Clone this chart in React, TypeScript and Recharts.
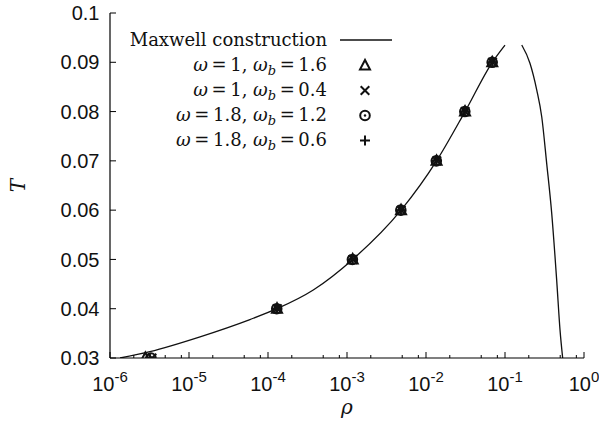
import { ComposedChart, Line, Scatter, XAxis, YAxis, Legend, Label } from 'recharts';

// Maxwell construction, gas branch (rho increasing, T rising)
const rhoGas = [1.34e-6, 3.2e-6, 1.38e-5, 5.9e-5, 1.3e-4, 3.74e-4, 1.18e-3, 4.83e-3, 0.0136, 0.0312, 0.069, 0.1];
const tGas = [0.03, 0.0313, 0.0343, 0.0378, 0.04, 0.0438, 0.05, 0.06, 0.07, 0.08, 0.09, 0.0935];
// liquid branch
const rhoLiq = [0.163, 0.207, 0.252, 0.292, 0.337, 0.39, 0.451, 0.497, 0.537];
const tLiq = [0.0935, 0.0898, 0.0844, 0.0789, 0.0695, 0.0594, 0.0458, 0.0357, 0.03];

// simulation points
const tSim = [0.03, 0.04, 0.05, 0.06, 0.07, 0.08, 0.09];
const rhoW1Wb16 = [2.8e-6, 1.3e-4, 1.18e-3, 4.83e-3, 0.0136, 0.0312, 0.069];
const rhoW1Wb04 = [3.4e-6, 1.31e-4, 1.19e-3, 4.85e-3, 0.0137, 0.0313, 0.0695];
const rhoW18Wb12 = [3.3e-6, 1.29e-4, 1.17e-3, 4.8e-3, 0.0135, 0.031, 0.0688];
const rhoW18Wb06 = [3.2e-6, 1.3e-4, 1.18e-3, 4.82e-3, 0.0136, 0.0311, 0.069];

const omegas = ['1', '1', '1.8', '1.8'];
const omegaBs = ['1.6', '0.4', '1.2', '0.6'];
const markerKinds = ['triangle', 'cross', 'circle', 'plus'];

const yTicks = [0.03, 0.04, 0.05, 0.06, 0.07, 0.08, 0.09, 0.1];
const xDecades = [1e-6, 1e-5, 1e-4, 1e-3, 1e-2, 1e-1, 1];
const xMinorSteps = [2, 5, 8];

const xTicks: number[] = [];
xDecades.forEach((d, i) => {
  xTicks.push(d);
  if (i < xDecades.length - 1) xMinorSteps.forEach(m => xTicks.push(d * m));
});

const zip = (rho: number[], t: number[]) => rho.map((r, i) => ({ rho: r, T: t[i] }));
const gasData = zip(rhoGas, tGas);
const liqData = zip(rhoLiq, tLiq);
const simSets = [rhoW1Wb16, rhoW1Wb04, rhoW18Wb12, rhoW18Wb06].map(r => zip(r, tSim));

const SANS = '"Liberation Sans", Arial, sans-serif';
const SERIF = '"DejaVu Serif", serif';
const THIN = '\u2009';

function Marker({ kind, cx, cy }: { kind: string; cx: number; cy: number }) {
  const s = { stroke: '#111', strokeWidth: 2, fill: 'none' };
  if (kind === 'triangle')
    return <polygon points={`${cx},${cy - 5.5} ${cx - 5},${cy + 4} ${cx + 5},${cy + 4}`} {...s} strokeLinejoin="miter" />;
  if (kind === 'cross')
    return <path d={`M${cx - 4.3},${cy - 4.3}L${cx + 4.3},${cy + 4.3}M${cx - 4.3},${cy + 4.3}L${cx + 4.3},${cy - 4.3}`} {...s} />;
  if (kind === 'circle')
    return (
      <g>
        <circle cx={cx} cy={cy} r={4.8} {...s} />
        <circle cx={cx} cy={cy} r={1.2} fill="#111" />
      </g>
    );
  return <path d={`M${cx - 5},${cy}L${cx + 5},${cy}M${cx},${cy - 5}L${cx},${cy + 5}`} {...s} />;
}

const isMajor = (v: number) => Math.abs(Math.log10(v) - Math.round(Math.log10(v))) < 1e-9;

function BottomTick(props: any) {
  const { x, y, payload } = props;
  const major = isMajor(payload.value);
  const exp = Math.round(Math.log10(payload.value));
  return (
    <g>
      <line x1={x} x2={x} y1={y} y2={y - (major ? 6 : 3)} stroke="#000" strokeWidth={1} />
      {major && (
        <text x={x} y={y + 33} textAnchor="middle" fontFamily={SANS} fontSize={20} fill="#111">
          <tspan>10</tspan>
          <tspan dy={-9} fontSize={15}>{`${exp}`}</tspan>
        </text>
      )}
    </g>
  );
}

function TopTick(props: any) {
  const { x, y, payload } = props;
  const major = isMajor(payload.value);
  return <line x1={x} x2={x} y1={y} y2={y + (major ? 6 : 3)} stroke="#000" strokeWidth={1} />;
}

function LeftTick(props: any) {
  const { x, y, payload } = props;
  return (
    <g>
      <line x1={x} x2={x + 6} y1={y} y2={y} stroke="#000" strokeWidth={1} />
      <text x={x - 10.5} y={y} dy="0.36em" textAnchor="end" fontFamily={SANS} fontSize={20} fill="#111">
        {String(payload.value)}
      </text>
    </g>
  );
}

function RightTick(props: any) {
  const { x, y } = props;
  return <line x1={x} x2={x - 6} y1={y} y2={y} stroke="#000" strokeWidth={1} />;
}

function LegendBox() {
  const textX = 327;
  const markX = 365;
  return (
    <svg width={420} height={160} style={{ display: 'block', overflow: 'visible' }}>
      <text x={textX} y={46} textAnchor="end" fontFamily={SERIF} fontSize={18} fill="#111">
        Maxwell construction
      </text>
      <line x1={340} x2={392} y1={40} y2={40} stroke="#111" strokeWidth={1.3} />
      {omegas.map((w, i) => {
        const cy = 65.5 + i * 25;
        return (
          <g key={i}>
            <text x={textX} y={cy + 5.5} textAnchor="end" fontFamily={SERIF} fontSize={18} fill="#111">
              <tspan fontStyle="italic">ω</tspan>
              <tspan>{`${THIN}=${THIN}${w}, `}</tspan>
              <tspan fontStyle="italic">ω</tspan>
              <tspan fontStyle="italic" fontSize={13} dy={4}>b</tspan>
              <tspan dy={-4}>{`${THIN}=${THIN}${omegaBs[i]}`}</tspan>
            </text>
            <Marker kind={markerKinds[i]} cx={markX} cy={cy} />
          </g>
        );
      })}
    </svg>
  );
}

export default function App() {
  const axisLine = { stroke: '#000', strokeWidth: 1.2 };
  return (
    <div style={{ position: 'absolute', left: 0, top: 0, background: '#fff' }}>
      <ComposedChart width={599} height={423} margin={{ top: 13, right: 15, bottom: 0, left: 0 }}>
        <XAxis
          xAxisId="b"
          dataKey="rho"
          type="number"
          scale="log"
          domain={[1e-6, 1]}
          allowDataOverflow
          ticks={xTicks}
          interval={0}
          height={65}
          tickSize={0}
          tickMargin={0}
          tickLine={false}
          axisLine={axisLine}
          tick={BottomTick}
        >
          <Label
            content={(p: any) => (
              <text
                x={p.viewBox.x + p.viewBox.width / 2}
                y={p.viewBox.y + 56}
                textAnchor="middle"
                fontFamily={SERIF}
                fontStyle="italic"
                fontSize={20}
                fill="#111"
              >
                ρ
              </text>
            )}
          />
        </XAxis>
        <XAxis
          xAxisId="t"
          orientation="top"
          dataKey="rho"
          type="number"
          scale="log"
          domain={[1e-6, 1]}
          allowDataOverflow
          ticks={xTicks}
          interval={0}
          height={0}
          tickSize={0}
          tickMargin={0}
          tickLine={false}
          axisLine={axisLine}
          tick={TopTick}
        />
        <YAxis
          yAxisId="l"
          dataKey="T"
          type="number"
          domain={[0.03, 0.1]}
          allowDataOverflow
          ticks={yTicks}
          interval={0}
          width={110}
          tickSize={0}
          tickMargin={0}
          tickLine={false}
          axisLine={axisLine}
          tick={LeftTick}
        >
          <Label
            content={(p: any) => {
              const x = p.viewBox.x + 25;
              const y = p.viewBox.y + p.viewBox.height / 2;
              return (
                <text
                  x={x}
                  y={y}
                  transform={`rotate(-90, ${x}, ${y})`}
                  textAnchor="middle"
                  fontFamily={SERIF}
                  fontStyle="italic"
                  fontSize={20}
                  fill="#111"
                >
                  T
                </text>
              );
            }}
          />
        </YAxis>
        <YAxis
          yAxisId="r"
          orientation="right"
          dataKey="T"
          type="number"
          domain={[0.03, 0.1]}
          allowDataOverflow
          ticks={yTicks}
          interval={0}
          width={0}
          tickSize={0}
          tickMargin={0}
          tickLine={false}
          axisLine={axisLine}
          tick={RightTick}
        />
        <Line
          xAxisId="b"
          yAxisId="l"
          data={gasData}
          dataKey="T"
          type="monotone"
          stroke="#111"
          strokeWidth={1.3}
          dot={false}
          isAnimationActive={false}
        />
        <Line
          xAxisId="b"
          yAxisId="l"
          data={liqData}
          dataKey="T"
          type="monotone"
          stroke="#111"
          strokeWidth={1.3}
          dot={false}
          isAnimationActive={false}
        />
        {simSets.map((d, i) => (
          <Scatter
            key={i}
            xAxisId="b"
            yAxisId="l"
            data={d}
            dataKey="T"
            isAnimationActive={false}
            shape={(p: any) => <Marker kind={markerKinds[i]} cx={p.cx} cy={p.cy} />}
          />
        ))}
        <Legend
          layout="vertical"
          align="center"
          verticalAlign="middle"
          wrapperStyle={{ left: 0, top: 0, width: 420, height: 160 }}
          content={() => <LegendBox />}
        />
      </ComposedChart>
    </div>
  );
}
